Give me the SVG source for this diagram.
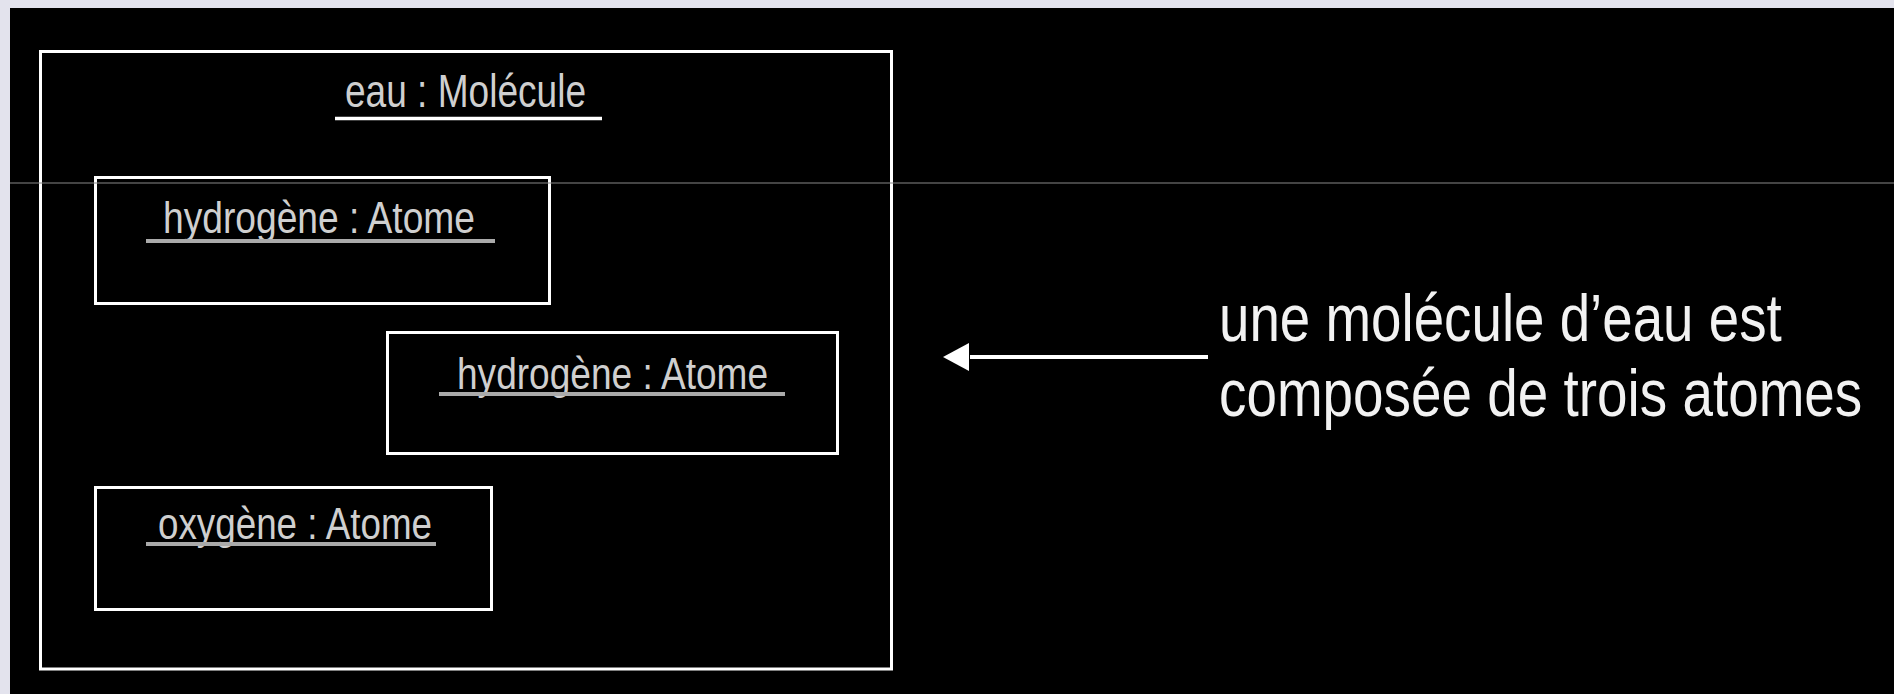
<svg xmlns="http://www.w3.org/2000/svg" width="1894" height="694" viewBox="0 0 1894 694">
  <style>
    .box { fill: none; stroke: #ffffff; stroke-width: 3; }
    .lbl { font-family: "Liberation Sans", Arial, sans-serif; fill: #cfcfcf; }
    .ul { stroke: #aaaaaa; stroke-width: 4; }
    .note { font-family: "Liberation Sans", Arial, sans-serif; fill: #f2f2f2; font-size: 66px; }
  </style>
  <defs>
    <marker id="arrowhead" markerUnits="userSpaceOnUse" markerWidth="28" markerHeight="30" refX="1" refY="15" orient="auto-start-reverse">
      <polygon points="28,15 2,1 2,29" fill="#ffffff"/>
    </marker>
  </defs>
  <rect x="0" y="0" width="1894" height="694" fill="#e3e3ed"/>
  <rect x="10" y="8" width="1884" height="686" fill="#000000"/>

  <g id="molecule">
    <rect class="box" x="40.5" y="51.5" width="851" height="617.5"/>
    <text class="lbl" x="345" y="107" font-size="47" textLength="241" lengthAdjust="spacingAndGlyphs">eau : Molécule</text>
    <line x1="335" y1="118.5" x2="602" y2="118.5" stroke="#ffffff" stroke-width="3.5"/>
  </g>

  <g id="hydrogene1">
    <rect class="box" x="95.5" y="177.5" width="454" height="126"/>
    <text class="lbl" x="163" y="233" font-size="45" textLength="312" lengthAdjust="spacingAndGlyphs">hydrogène : Atome</text>
    <line class="ul" x1="146" y1="241" x2="495" y2="241"/>
  </g>

  <g id="hydrogene2">
    <rect class="box" x="387.5" y="332.5" width="450" height="121"/>
    <text class="lbl" x="457" y="389" font-size="45" textLength="311" lengthAdjust="spacingAndGlyphs">hydrogène : Atome</text>
    <line class="ul" x1="439" y1="394" x2="785" y2="394"/>
  </g>

  <g id="oxygene">
    <rect class="box" x="95.5" y="487.5" width="396" height="122"/>
    <text class="lbl" x="158" y="539" font-size="44" textLength="274" lengthAdjust="spacingAndGlyphs">oxygène : Atome</text>
    <line class="ul" x1="146" y1="544" x2="436" y2="544"/>
  </g>

  <g id="note">
    <text class="note" transform="translate(1219,341) scale(0.83,1)" x="0" y="0" textLength="678" lengthAdjust="spacingAndGlyphs">une molécule d’eau est</text>
    <text class="note" transform="translate(1219,416) scale(0.83,1)" x="0" y="0" textLength="775" lengthAdjust="spacingAndGlyphs">composée de trois atomes</text>
  </g>

  <g id="connectors">
    <line x1="1208" y1="357" x2="970" y2="357" stroke="#ffffff" stroke-width="4" marker-end="url(#arrowhead)"/>
  </g>

  <line x1="10" y1="183" x2="1894" y2="183" stroke="#888888" stroke-width="1"/>
</svg>
